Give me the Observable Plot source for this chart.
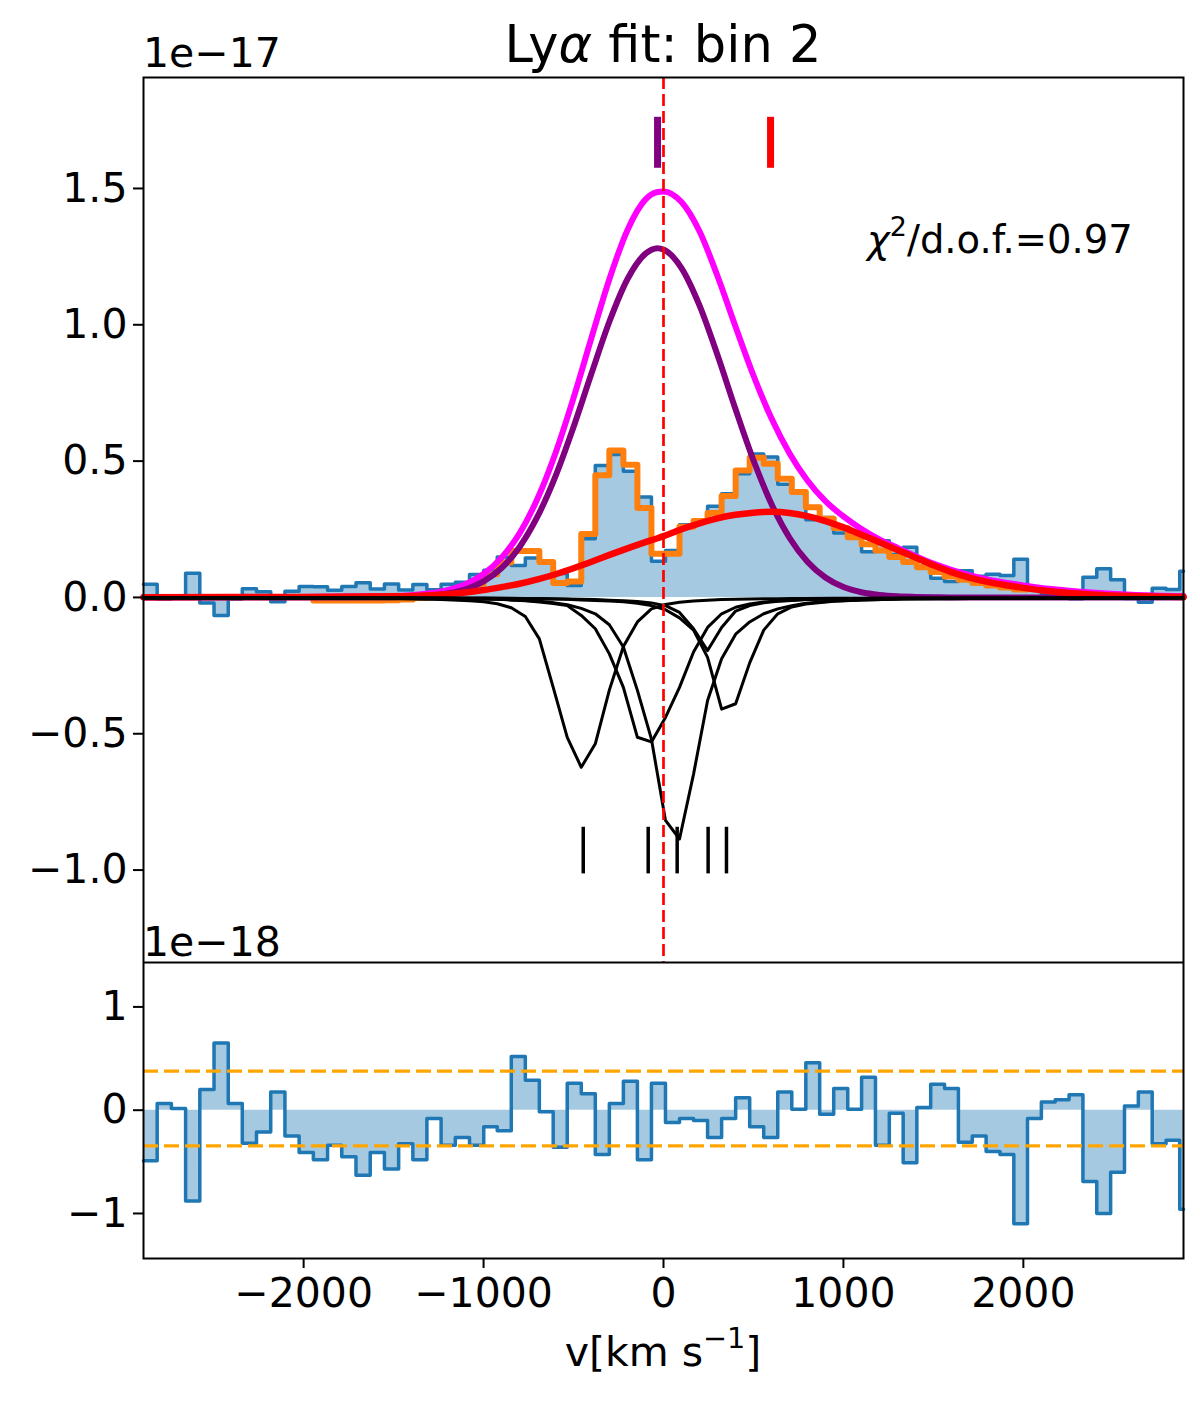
<!DOCTYPE html>
<html>
<head>
<meta charset="utf-8">
<script src="https://cdn.jsdelivr.net/npm/d3@7"></script>
<script src="https://cdn.jsdelivr.net/npm/@observablehq/plot@0.6"></script>
<style>
  body { margin: 0; background: white; font-family: "DejaVu Sans", sans-serif; }
  #fig { position: relative; width: 1200px; height: 1403px; background: white; }
  #fig svg { display: block; }
  .txt { position: absolute; white-space: nowrap; color: black; line-height: 1; font-family: "DejaVu Sans", sans-serif; }
  .txt sup { font-size: 70%; vertical-align: 0.62em; line-height: 0; }
</style>
</head>
<body>
<div id="fig">
  <div id="top"></div>
  <div id="bottom"></div>
  <div class="txt" style="font-size:51px; left:663px; top:19px; transform:translateX(-50%);">Ly<i>α</i> fit: bin 2</div>
  <div class="txt" style="font-size:41px; left:143px; top:33px;">1e−17</div>
  <div class="txt" style="font-size:41px; left:143px; top:922px;">1e−18</div>
  <div class="txt" style="font-size:38.5px; left:867px; top:221px;"><i>χ</i><sup>2</sup>/d.o.f.=0.97</div>
  <div class="txt" style="font-size:41px; left:663px; top:1332px; transform:translateX(-50%);">v[km s<sup>−1</sup>]</div>
</div>
<script>
// bin edges (km/s) of the spectrum
const binEdges = [-2890, -2814, -2735, -2656, -2577, -2498, -2419, -2341, -2262, -2183,
  -2104, -2025, -1946, -1867, -1788, -1709, -1630, -1551, -1472, -1393,
  -1315, -1236, -1157, -1078, -999, -924, -846, -768, -690, -613,
  -535, -457, -379, -301, -223, -145, -67, 11, 89, 167,
  245, 323, 401, 479, 557, 635, 713, 791, 868, 946,
  1024, 1101, 1178, 1255, 1332, 1408, 1485, 1562, 1639, 1716,
  1793, 1870, 1947, 2023, 2100, 2177, 2254, 2331, 2408, 2485,
  2562, 2639, 2716, 2793, 2869, 2890]

// observed flux per bin (1e-17)
const fluxData = [0.048, -0.006, -0.002, 0.089, -0.020, -0.066, -0.006, 0.032, 0.021, -0.016,
  0.023, 0.040, 0.039, 0.026, 0.040, 0.054, 0.031, 0.049, 0.027, 0.047,
  0.028, 0.048, 0.056, 0.084, 0.100, 0.148, 0.117, 0.145, 0.130, 0.088,
  0.044, 0.215, 0.484, 0.524, 0.463, 0.368, 0.133, 0.172, 0.267, 0.285,
  0.334, 0.380, 0.454, 0.526, 0.515, 0.415, 0.386, 0.285, 0.293, 0.236,
  0.220, 0.168, 0.208, 0.158, 0.184, 0.115, 0.070, 0.058, 0.098, 0.078,
  0.085, 0.080, 0.140, 0.030, 0.012, 0.005, -0.005, 0.074, 0.105, 0.065,
  -0.004, -0.018, 0.034, 0.029, 0.096]

// fitted model per bin, only inside the fit window (bins 13..63)
const fluxModel = [-0.011, -0.011, -0.011, -0.011, -0.011, -0.010, -0.008, -0.002, 0.012, 0.016,
  0.030, 0.050, 0.085, 0.128, 0.170, 0.170, 0.130, 0.053, 0.058, 0.233,
  0.448, 0.539, 0.487, 0.328, 0.160, 0.160, 0.259, 0.280, 0.310, 0.372,
  0.466, 0.512, 0.490, 0.435, 0.387, 0.331, 0.289, 0.255, 0.221, 0.195,
  0.172, 0.148, 0.130, 0.111, 0.093, 0.077, 0.065, 0.053, 0.044, 0.036,
  0.029]
const fitWindowStart = 12

// residuals per bin (1e-18)
const residuals = [-0.49, 0.064, 0.016, -0.88, 0.20, 0.65, 0.064, -0.32, -0.21, 0.175,
  -0.25, -0.41, -0.48, -0.34, -0.45, -0.63, -0.41, -0.57, -0.325, -0.48,
  -0.08, -0.34, -0.265, -0.34, -0.16, -0.20, 0.52, 0.29, -0.016, -0.36,
  0.26, 0.16, -0.43, 0.064, 0.28, -0.48, 0.26, -0.12, -0.08, -0.10,
  -0.265, -0.08, 0.12, -0.16, -0.265, 0.175, 0.01, 0.46, -0.04, 0.21,
  0.01, 0.32, -0.34, -0.03, -0.51, 0.026, 0.25, 0.21, -0.31, -0.25,
  -0.40, -0.43, -1.10, -0.08, 0.08, 0.10, 0.15, -0.69, -1.00, -0.60,
  0.04, 0.175, -0.325, -0.29, -0.96]
const sigmaBand = [0.378, -0.345]

// intrinsic emission components
const curveV = [-2890, -2000, -1500, -1400, -1300, -1200, -1100, -1000, -900, -800,
  -700, -600, -500, -400, -300, -200, -100, -33, 0, 100,
  200, 300, 400, 500, 600, 700, 800, 900, 1000, 1100,
  1200, 1300, 1400, 1500, 1600, 1700, 1800, 1900, 2000, 2100,
  2200, 2300, 2400, 2600, 2890]
const totalLine = [0.001, 0.002, 0.005, 0.008, 0.015, 0.027, 0.048, 0.086, 0.146, 0.235,
  0.363, 0.530, 0.732, 0.953, 1.169, 1.348, 1.460, 1.487, 1.489, 1.450,
  1.343, 1.179, 0.994, 0.814, 0.657, 0.529, 0.429, 0.353, 0.297, 0.251,
  0.213, 0.182, 0.152, 0.124, 0.101, 0.082, 0.066, 0.054, 0.044, 0.035,
  0.028, 0.022, 0.017, 0.010, 0.005]
const narrowLine = [0, 0, 0.001, 0.003, 0.007, 0.015, 0.030, 0.059, 0.108, 0.185,
  0.297, 0.445, 0.625, 0.822, 1.013, 1.168, 1.261, 1.281, 1.276, 1.208,
  1.071, 0.889, 0.691, 0.503, 0.343, 0.219, 0.131, 0.073, 0.038, 0.019,
  0.009, 0.004, 0.002, 0.001, 0, 0, 0, 0, 0, 0,
  0, 0, 0, 0, 0]
const broadLine = [0.001, 0.002, 0.004, 0.005, 0.008, 0.012, 0.018, 0.027, 0.038, 0.050,
  0.066, 0.085, 0.107, 0.131, 0.156, 0.180, 0.203, 0.217, 0.225, 0.250,
  0.272, 0.290, 0.303, 0.311, 0.314, 0.310, 0.298, 0.280, 0.257, 0.230,
  0.202, 0.174, 0.146, 0.118, 0.093, 0.073, 0.057, 0.045, 0.035, 0.026,
  0.019, 0.014, 0.010, 0.005, 0.002]
const narrowCenter = -33
const broadCenter = 595

// absorber profiles (drawn negative), sampled on the bin edges
const absV = [-2890, -1472, -1236, -1078, -999, -924, -846, -768, -690, -613,
  -535, -457, -379, -301, -223, -145, -67, 11, 89, 167,
  245, 323, 401, 479, 557, 635, 713, 791, 946, 1101,
  1332, 1716, 2890]
const absA = [-0.002, -0.005, -0.008, -0.012, -0.016, -0.023, -0.038, -0.07, -0.152, -0.33,
  -0.513, -0.623, -0.537, -0.34, -0.18, -0.09, -0.042, -0.026, -0.018, -0.013,
  -0.010, -0.008, -0.007, -0.006, -0.005, -0.005, -0.004, -0.004, -0.003, -0.003,
  -0.002, -0.002, -0.001]
const absB = [-0.002, -0.003, -0.004, -0.005, -0.006, -0.007, -0.009, -0.012, -0.017, -0.022,
  -0.03, -0.066, -0.115, -0.207, -0.33, -0.513, -0.53, -0.44, -0.33, -0.20,
  -0.11, -0.06, -0.036, -0.024, -0.017, -0.013, -0.010, -0.008, -0.006, -0.005,
  -0.004, -0.003, -0.002]
const absC = [-0.002, -0.003, -0.004, -0.005, -0.006, -0.007, -0.009, -0.011, -0.014, -0.019,
  -0.027, -0.04, -0.06, -0.10, -0.182, -0.341, -0.52, -0.818, -0.886, -0.648,
  -0.378, -0.225, -0.135, -0.09, -0.06, -0.042, -0.03, -0.021, -0.013, -0.009,
  -0.006, -0.004, -0.002]
const absD = [-0.001, -0.001, -0.002, -0.002, -0.002, -0.003, -0.003, -0.004, -0.004, -0.005,
  -0.006, -0.007, -0.008, -0.010, -0.012, -0.015, -0.02, -0.03, -0.055, -0.115,
  -0.195, -0.11, -0.05, -0.03, -0.02, -0.014, -0.011, -0.008, -0.006, -0.004,
  -0.003, -0.002, -0.001]
const absE = [-0.001, -0.002, -0.002, -0.003, -0.003, -0.003, -0.004, -0.005, -0.005, -0.006,
  -0.007, -0.009, -0.011, -0.013, -0.016, -0.021, -0.03, -0.045, -0.075, -0.12,
  -0.22, -0.41, -0.39, -0.24, -0.12, -0.06, -0.035, -0.024, -0.014, -0.009,
  -0.006, -0.004, -0.002]
const absCenters = [-446, -85, 76, 248, 350]

// axes
const xTicks = [-2000, -1000, 0, 1000, 2000]
const yTicksTop = [-1, -0.5, 0, 0.5, 1, 1.5]
const yTicksBottom = [-1, 0, 1]

// tables for the marks
const fluxSteps = binEdges.map((v, i) => ({v, f: fluxData[Math.min(i, fluxData.length - 1)]}))
const modelEdges = binEdges.slice(fitWindowStart, fitWindowStart + fluxModel.length + 1)
const modelSteps = modelEdges.map((v, i) => ({v, f: fluxModel[Math.min(i, fluxModel.length - 1)]}))
const residSteps = binEdges.map((v, i) => ({v, r: residuals[Math.min(i, residuals.length - 1)]}))
const curves = curveV.map((v, i) => ({v, total: totalLine[i], narrow: narrowLine[i], broad: broadLine[i]}))
const absRows = [absA, absB, absC, absD, absE].flatMap((vals, j) => vals.map((f, i) => ({v: absV[i], f, id: j})))

const font = {fontFamily: "DejaVu Sans", fontSize: "41px", color: "black", background: "white"}

// panel with the line fit
let chart = Plot.plot({
  width: 1200, height: 962,
  marginTop: 77, marginBottom: 0, marginLeft: 143, marginRight: 17,
  style: font,
  x: {domain: [-2890, 2890], axis: null},
  y: {domain: [-1.339, 1.907]},
  marks: [
    Plot.areaY(fluxSteps, {x: 'v', y: 'f', curve: 'step-after', fill: '#1f77b4', fillOpacity: 0.4}),
    Plot.lineY(fluxSteps, {x: 'v', y: 'f', curve: 'step-after', stroke: '#1f77b4', strokeWidth: 3.5}),
    Plot.lineY(modelSteps, {x: 'v', y: 'f', curve: 'step-after', stroke: '#ff7f0e', strokeWidth: 6}),
    Plot.lineY(curves, {x: 'v', y: 'total', curve: 'monotone-x', stroke: '#ff00ff', strokeWidth: 6}),
    Plot.lineY(curves, {x: 'v', y: 'narrow', curve: 'monotone-x', stroke: '#800080', strokeWidth: 6}),
    Plot.lineY(curves, {x: 'v', y: 'broad', curve: 'monotone-x', stroke: '#ff0000', strokeWidth: 6.5}),
    Plot.lineY(absRows, {x: 'v', y: 'f', z: 'id', stroke: 'black', strokeWidth: 3}),
    Plot.ruleX(absCenters, {y1: -0.843, y2: -1.014, stroke: 'black', strokeWidth: 3.5}),
    Plot.ruleX([narrowCenter], {y1: 1.574, y2: 1.761, stroke: '#800080', strokeWidth: 7}),
    Plot.ruleX([broadCenter], {y1: 1.574, y2: 1.761, stroke: '#ff0000', strokeWidth: 7}),
    Plot.ruleX([0], {stroke: 'red', strokeWidth: 2.7, strokeDasharray: '12,5'}),
    Plot.frame({stroke: 'black', strokeWidth: 2}),
    Plot.axisY({ticks: yTicksTop, tickFormat: d3.format('.1f'), tickSize: 10, tickPadding: 6,
      strokeWidth: 2, fontSize: 41, label: null})
  ]
})
d3.select('#top').append(() => chart)

// residual panel
let resid = Plot.plot({
  width: 1200, height: 441,
  marginTop: 0, marginBottom: 145, marginLeft: 143, marginRight: 17,
  style: font,
  x: {domain: [-2890, 2890]},
  y: {domain: [-1.436, 1.43]},
  marks: [
    Plot.areaY(residSteps, {x: 'v', y: 'r', curve: 'step-after', fill: '#1f77b4', fillOpacity: 0.4}),
    Plot.lineY(residSteps, {x: 'v', y: 'r', curve: 'step-after', stroke: '#1f77b4', strokeWidth: 3.5}),
    Plot.ruleY(sigmaBand, {stroke: '#ffa500', strokeWidth: 3.3, strokeDasharray: '15,6'}),
    Plot.frame({stroke: 'black', strokeWidth: 2}),
    Plot.axisY({ticks: yTicksBottom, tickFormat: d3.format('d'), tickSize: 10, tickPadding: 6,
      strokeWidth: 2, fontSize: 41, label: null}),
    Plot.axisX({ticks: xTicks, tickFormat: d3.format('d'), tickSize: 10, tickPadding: 9,
      strokeWidth: 2, fontSize: 41, label: null})
  ]
})
d3.select('#bottom').append(() => resid)
</script>
</body>
</html>
